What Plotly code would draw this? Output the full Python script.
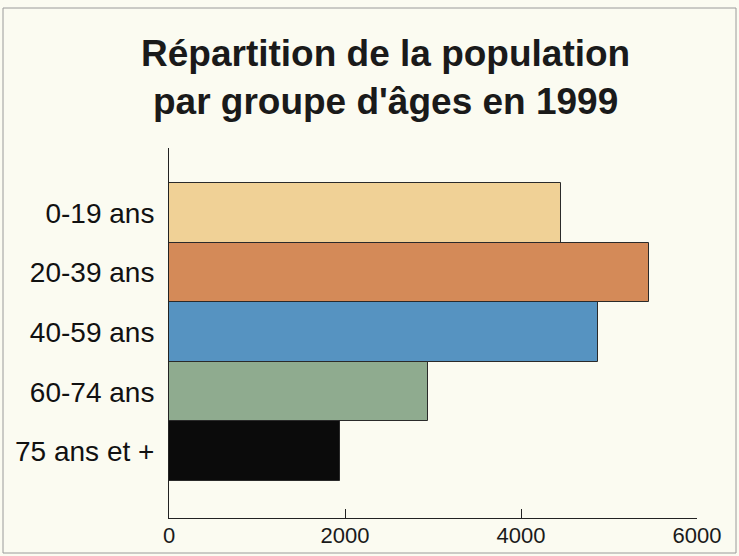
import plotly.graph_objects as go

categories = ["0-19 ans", "20-39 ans", "40-59 ans", "60-74 ans", "75 ans et +"]
population = [4460, 5460, 4880, 2940, 1940]
bar_colors = ["#f0d196", "#d48a58", "#5693c1", "#8fab8f", "#0b0b0b"]
x_ticks = [0, 2000, 4000, 6000]
x_tick_labels = ["0", "2000", "4000", "6000"]
title_text = "<b>Répartition de la population<br>par groupe d'âges en 1999</b>"

W, H = 739, 556
L, R, T, B = 169, 42, 148, 38
pw, ph = W - L - R, H - T - B

fig = go.Figure(
    go.Bar(
        x=population,
        y=categories,
        orientation="h",
        marker=dict(color=bar_colors, line=dict(color="#2a2a2a", width=1)),
        width=1.0,
        hoverinfo="x+y",
    )
)

bg = "#fbfbf1"
fig.update_layout(
    width=W,
    height=H,
    margin=dict(l=L, r=R, t=T, b=B, autoexpand=False),
    paper_bgcolor=bg,
    plot_bgcolor=bg,
    showlegend=False,
    bargap=0,
    font=dict(family="Liberation Sans, Arial, sans-serif", color="#1a1a1a"),
    xaxis=dict(
        range=[0, 6000],
        tickvals=x_ticks,
        ticktext=x_tick_labels,
        ticks="inside",
        ticklen=9,
        tickcolor="#222",
        showgrid=False,
        zeroline=False,
        showline=True,
        linecolor="#222",
        linewidth=1,
        automargin=False,
        ticklabelstandoff=-2,
        tickfont=dict(size=22, color="#1a1a1a"),
        fixedrange=True,
    ),
    yaxis=dict(
        categoryorder="array",
        categoryarray=categories,
        range=[5.12, -1.09],
        showgrid=False,
        zeroline=False,
        showline=True,
        linecolor="#222",
        linewidth=1,
        ticks="",
        automargin=False,
        ticklabelstandoff=8,
        tickfont=dict(size=28, color="#111"),
        fixedrange=True,
    ),
    annotations=[
        dict(
            text=title_text,
            xref="paper",
            yref="paper",
            x=(385 - L) / pw,
            y=(H - B - 78) / ph,
            xanchor="center",
            yanchor="middle",
            showarrow=False,
            align="center",
            font=dict(family="Liberation Sans, Arial, sans-serif", size=37, color="#1a1a1a"),
        )
    ],
    shapes=[
        dict(
            type="rect",
            xref="paper",
            yref="paper",
            x0=(3 - L) / pw,
            x1=(736 - L) / pw,
            y0=(H - B - 553) / ph,
            y1=(H - B - 8) / ph,
            line=dict(color="#9a9a9a", width=1),
            fillcolor="rgba(0,0,0,0)",
            layer="below",
        )
    ],
)

fig.write_html(
    "out.html",
    config={"displayModeBar": False},
    post_script="document.body.style.margin='0';document.body.style.overflow='hidden';",
)
